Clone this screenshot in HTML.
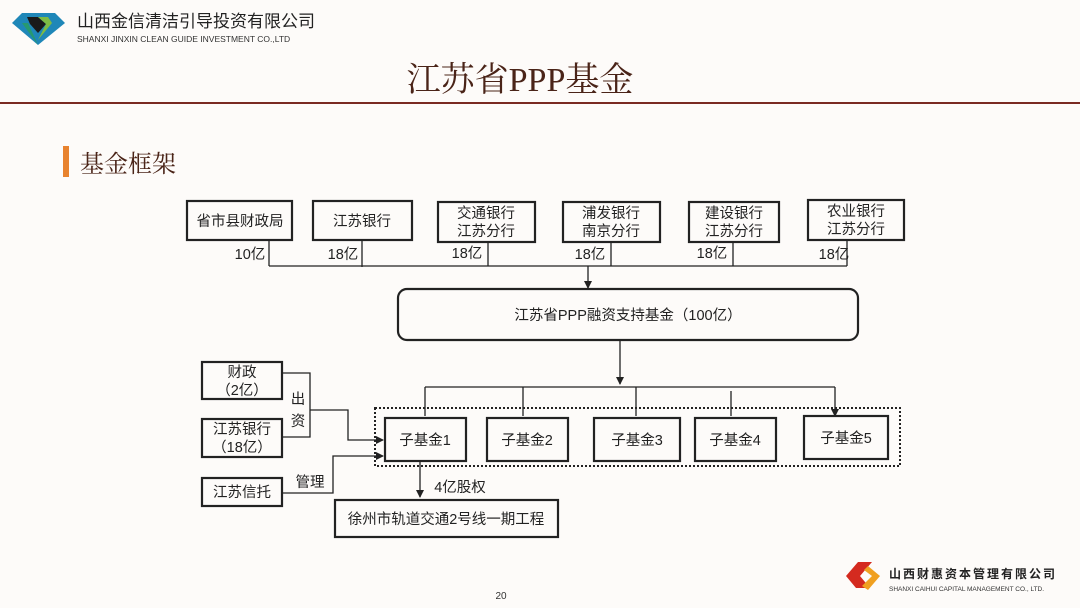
<!DOCTYPE html>
<html><head><meta charset="utf-8"><style>
html,body{margin:0;padding:0;background:#fdfbf9;}
svg{display:block;}
text{font-family:"Liberation Sans","Noto Sans CJK SC",sans-serif;}
</style></head><body>
<svg width="1080" height="608" viewBox="0 0 1080 608" xmlns="http://www.w3.org/2000/svg">
<defs>
<marker id="a" markerWidth="8" markerHeight="8" refX="7" refY="4" orient="auto" markerUnits="userSpaceOnUse"><path d="M0,0 L8,4 L0,8 Z" fill="#222"/></marker>
</defs>
<rect width="1080" height="608" fill="#fdfbf9"/>
<!-- top logo -->
<polygon points="12,23 22,13 55,13 65,23 38,45" fill="#1f87b8"/>
<polygon points="27,17 38,17 46,24 38,33 30,24" fill="#1a1a1a"/>
<polygon points="38,17 48,17 52,23 38,40 46,24" fill="#7dbb44"/>
<polygon points="22,23 38,45 28,23" fill="#27996f"/>
<text x="77" y="27" font-size="17" fill="#222">山西金信清洁引导投资有限公司</text>
<text x="77" y="42" font-size="8.5" fill="#333">SHANXI JINXIN CLEAN GUIDE INVESTMENT CO.,LTD</text>
<!-- title -->
<text x="520" y="91" font-size="34" text-anchor="middle" fill="#4a2418" style="font-family:'Liberation Serif','Noto Serif CJK SC',serif">江苏省PPP基金</text>
<rect x="0" y="102" width="1080" height="2" fill="#7a2a22"/>
<rect x="63" y="146" width="6" height="31" fill="#e8832f"/>
<text x="80" y="172" font-size="24" fill="#4a2418" style="font-family:'Liberation Serif','Noto Serif CJK SC',serif">基金框架</text>
<g stroke="#222" fill="none" stroke-width="1.3">
<!-- top boxes -->
<rect x="187" y="201" width="105" height="39" stroke-width="2.2"/>
<rect x="313" y="201" width="99" height="39" stroke-width="2.2"/>
<rect x="438" y="202" width="97" height="40" stroke-width="2.2"/>
<rect x="563" y="202" width="97" height="40" stroke-width="2.2"/>
<rect x="689" y="202" width="90" height="40" stroke-width="2.2"/>
<rect x="808" y="200" width="96" height="40" stroke-width="2.2"/>
<path d="M269,240V266M362,240V267M488,242V266M611,242V266M733,242V266M847,240V266M269,266H847"/>
<path d="M588,266V288" marker-end="url(#a)"/>
<rect x="398" y="289" width="460" height="51" rx="9" stroke-width="2.2"/>
<path d="M620,340V384" marker-end="url(#a)"/>
<path d="M425,387H835"/>
<path d="M425,387V416M523,387V416M636,387V416M731,391V416M835,387V416" marker-end="url(#a)"/>
<rect x="375" y="408" width="525" height="58" stroke-dasharray="2,2" stroke-width="2"/>
<rect x="385" y="418" width="81" height="43" stroke-width="2.2"/>
<rect x="487" y="418" width="81" height="43" stroke-width="2.2"/>
<rect x="594" y="418" width="86" height="43" stroke-width="2.2"/>
<rect x="695" y="418" width="81" height="43" stroke-width="2.2"/>
<rect x="804" y="416" width="84" height="43" stroke-width="2.2"/>
<!-- left -->
<rect x="202" y="362" width="80" height="37" stroke-width="2.2"/>
<rect x="202" y="419" width="80" height="38" stroke-width="2.2"/>
<rect x="202" y="478" width="80" height="28" stroke-width="2.2"/>
<path d="M282,373H310V437H282"/>
<path d="M310,410H348V440H383" marker-end="url(#a)"/>
<path d="M282,493H333V456H383" marker-end="url(#a)"/>
<path d="M420,461V497" marker-end="url(#a)"/>
<rect x="335" y="500" width="223" height="37" stroke-width="2.2"/>
</g>
<g font-size="14.5" fill="#222" text-anchor="middle">
<text x="240" y="226">省市县财政局</text>
<text x="362" y="226">江苏银行</text>
<text x="486" y="218">交通银行</text><text x="486" y="236">江苏分行</text>
<text x="611" y="218">浦发银行</text><text x="611" y="236">南京分行</text>
<text x="734" y="218">建设银行</text><text x="734" y="236">江苏分行</text>
<text x="856" y="216">农业银行</text><text x="856" y="234">江苏分行</text>
<text x="250" y="259">10亿</text><text x="343" y="259">18亿</text><text x="467" y="258">18亿</text>
<text x="590" y="259">18亿</text><text x="712" y="258">18亿</text><text x="834" y="259">18亿</text>
<text x="628" y="320">江苏省PPP融资支持基金（100亿）</text>
<text x="425" y="445">子基金1</text><text x="527" y="445">子基金2</text><text x="637" y="445">子基金3</text>
<text x="735" y="445">子基金4</text><text x="846" y="443">子基金5</text>
<text x="242" y="377">财政</text><text x="242" y="395">（2亿）</text>
<text x="242" y="434">江苏银行</text><text x="242" y="452">（18亿）</text>
<text x="242" y="497">江苏信托</text>
<text x="298" y="404">出</text><text x="298" y="426">资</text>
<text x="310" y="487">管理</text>
<text x="460" y="492">4亿股权</text>
<text x="446" y="524">徐州市轨道交通2号线一期工程</text>
</g>
<text x="501" y="599" font-size="10" fill="#333" text-anchor="middle">20</text>
<!-- bottom logo -->
<path d="M858,562 L872,562 L860,576 L870,588 L856,588 L846,576 Z" fill="#d42a1f"/>
<path d="M868,566 L880,576 L868,590 L862,586 L872,576 L864,570 Z" fill="#f0a020"/>
<text x="889" y="578" font-size="12" fill="#222" font-weight="bold" letter-spacing="2">山西财惠资本管理有限公司</text>
<text x="889" y="591" font-size="6.5" fill="#333">SHANXI CAIHUI CAPITAL MANAGEMENT CO., LTD.</text>
</svg>
</body></html>
